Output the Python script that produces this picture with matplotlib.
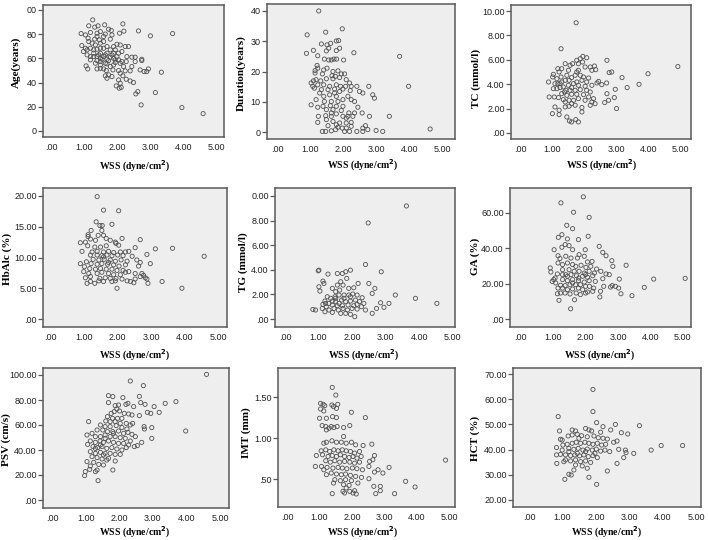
import matplotlib
matplotlib.use("Agg")
import matplotlib.pyplot as plt

W, H = 708, 540

# ---------------- data ----------------
# Panel 1: Age
age_x = [1.26,1.14,1.32,1.42,1.62,2.17,1.74,1.82,0.91,1.04,1.19,1.39,1.49,1.64,2.07,2.20,2.64,3.00,3.67,1.12,
         1.32,1.46,1.79,1.59,1.24,1.49,0.93,1.99,2.24,2.34,1.09,1.19,1.39,1.59,1.79,1.94,2.14,0.98,1.29,1.49,
         1.69,1.89,1.09,1.39,1.59,1.79,1.99,2.29,2.44,2.54,1.19,1.39,1.54,1.74,1.94,2.14,2.27,2.54,2.74,2.74,
         1.34,1.49,1.69,1.89,2.09,1.79,1.06,1.11,1.39,1.59,1.67,1.87,2.04,2.24,2.39,2.69,2.81,2.89,2.94,3.33,
         2.09,1.74,1.64,1.69,1.84,2.17,2.27,2.39,2.49,2.04,2.09,1.97,2.06,2.12,2.62,2.56,3.15,2.72,3.95,4.59,
         1.44,1.64,1.84,2.04,1.29,1.49,1.69,1.89,2.04,1.29,1.49,1.69,1.89,2.09,1.34,1.59,1.39,1.84,1.49,1.64,
         1.94,2.19,1.49,1.19,1.04,1.14,2.44]
age_y = [91.7,86.8,85.7,86.8,87.6,88.4,84,83,80.4,79.3,81.3,80.7,82,80,80.7,82.4,82.6,78.5,80.4,76.6,
         75.8,75.2,75.8,78,72.5,72.5,70.5,71.6,69.7,69.7,67,68.3,67.5,68.3,67,67,65.6,65.6,64.2,64.2,
         64.2,64.2,62.8,61.4,61.4,60.9,61.4,61.4,60.9,60.9,58.7,58.1,59.2,58.1,58.7,57.3,57.3,57.3,59.2,58.1,
         55.9,54.5,55.4,54.5,55.9,53.2,53.7,51.2,51.2,51.2,49.9,50.4,49.9,49.6,49.6,50.4,49,49,51.2,48.5,
         47.7,46.3,45.5,43.5,44.9,45.5,42.7,41.3,40,42.1,39.4,37.2,35.3,36,32.5,30.6,31.7,21.5,19.3,14.3,
         62.8,62.8,62.8,64.2,61.4,60,59.2,60,58.7,67,68.3,69.7,69.7,71,71,73.8,78,79.3,57.3,55.9,
         56.5,53.2,51.7,61.4,68.3,73.8,53.2]

# Panel 2: Duration
dur_x = [1.26,0.91,1.47,1.97,0.89,1.10,1.34,1.51,1.62,1.86,1.79,1.49,1.56,1.79,1.89,2.32,3.70,1.23,1.43,1.56,
         1.64,1.72,1.80,2.01,1.21,1.23,1.41,1.51,1.15,1.15,1.69,1.84,1.94,2.04,1.37,1.66,1.76,1.18,1.03,1.10,
         1.32,1.49,1.69,1.89,2.09,2.19,1.08,1.23,1.41,1.59,1.79,1.92,2.07,2.24,2.41,2.77,3.97,1.34,1.54,1.74,
         1.99,2.21,2.49,2.59,2.89,2.94,1.41,1.59,1.79,2.14,2.24,1.43,1.64,1.84,2.34,1.03,1.39,1.61,1.79,1.99,
         1.23,2.44,1.49,1.69,1.94,2.17,2.34,2.57,1.25,1.47,1.64,1.99,2.14,2.29,2.79,3.39,1.23,1.49,1.69,1.79,
         1.89,2.09,2.24,2.67,1.54,1.84,1.97,2.09,2.24,2.59,2.74,1.37,1.47,1.64,1.77,2.04,2.19,2.41,2.59,2.99,
         3.19,4.62,1.13,1.29,1.74,1.89,1.99,1.64,1.79,2.09,1.18]
dur_y = [40,32.1,33,34.1,26,27,29.1,28.8,29.3,30.2,30.1,26.8,27.7,26.9,27.7,26.2,25,25.2,24.1,23.8,
         23.8,24.1,24.1,23.8,22,21.1,20.5,21.1,20.3,19.5,20,20.2,19.2,19.2,19.2,18.6,18.4,17.3,16.2,16.9,
         16.9,17.6,17.6,18,17.3,16.2,15.1,15.6,15.6,15.1,15.6,15.1,15.1,15.1,15.1,15.1,15.1,14,14,14.2,
         14.2,13.7,13.4,12.9,12.3,11.2,11.8,12.3,11.8,11.8,10.7,10.1,10.1,10.1,10.1,9,8.5,8.7,8.5,8.5,
         8.2,8.2,7.4,7.4,7.1,6.3,6.3,6.3,5.2,5.4,5.2,5.2,5.2,5.2,5.2,5.2,3.2,4.1,3.5,2.4,
         3,3,3.2,2.1,2.1,1.6,1.3,1.3,1.9,1.3,0.8,0.2,0.2,0.4,0.8,0.2,0.2,0.2,0.2,0.5,
         0.2,1,14.5,12.9,12.9,13.4,10.7,6.3,6,4.6,10.7]

# Panel 3: TC
tc_x = [1.75,1.28,0.89,0.91,1.01,1.22,1.22,1.09,1.07,1.46,1.54,1.61,1.74,1.82,1.41,1.53,1.93,1.93,2.71,2.78,
        2.86,2.70,2.45,2.55,2.97,2.71,2.76,2.64,2.94,3.01,3.18,3.34,3.71,3.99,4.92,1.15,1.22,1.18,1.30,1.41,
        1.56,1.64,1.77,1.88,1.96,2.08,1.82,1.95,2.03,2.19,2.32,2.36,2.24,1.04,1.02,1.09,1.04,1.15,1.18,1.30,
        1.28,1.46,1.41,1.53,1.51,1.61,1.72,1.77,1.88,1.98,2.14,1.93,2.08,1.77,1.67,1.82,2.03,2.24,2.40,1.25,
        1.35,1.43,1.56,1.72,1.88,2.08,2.19,1.30,1.46,1.61,1.77,1.98,2.14,2.29,1.20,1.35,1.53,1.67,1.82,2.03,
        2.24,2.34,2.19,1.41,1.61,1.72,1.25,1.61,1.82,1.51,1.39]
tc_y = [9.04,6.91,4.18,2.95,1.58,1.50,1.86,2.13,2.95,1.31,0.98,0.90,1.09,0.90,2.13,2.19,1.72,2.08,5.96,4.95,
        5.00,4.10,4.23,3.96,3.58,3.22,2.68,2.49,2.90,2.00,4.54,3.72,3.99,4.86,5.45,4.45,5.00,5.27,5.27,5.68,
        5.55,5.68,5.96,6.09,6.28,6.17,5.68,5.82,5.41,5.41,5.49,5.19,5.14,4.81,4.59,4.04,3.63,3.63,4.04,4.18,
        4.59,4.73,4.32,4.32,3.91,4.54,4.73,5.00,4.73,4.59,4.51,4.32,4.18,4.18,4.04,3.91,3.83,3.91,4.10,3.72,
        3.77,3.50,3.50,3.50,3.55,3.50,3.36,3.22,3.09,3.17,3.17,3.14,2.95,2.81,2.90,2.73,2.68,2.68,2.81,2.68,
        2.54,2.40,2.27,2.54,2.40,2.27,4.04,3.72,5.14,5.14,3.36]

# Panel 4: HbA1c
hb_x = [1.39,1.58,2.03,1.83,1.36,1.47,1.54,0.89,1.04,1.12,1.21,1.12,1.19,1.34,1.42,1.58,1.53,1.66,1.78,1.93,
        2.13,2.67,1.95,2.03,1.11,1.32,1.49,1.66,2.52,3.12,3.63,0.94,1.24,1.39,1.58,1.73,1.88,2.08,2.23,2.33,
        1.19,1.39,1.53,1.68,1.83,2.00,2.16,2.43,2.87,4.57,1.27,1.44,1.60,1.78,1.93,2.10,2.28,2.57,0.89,1.07,
        1.21,1.39,1.53,1.70,1.88,2.04,2.23,2.67,2.97,2.62,1.01,1.17,1.34,1.49,1.66,1.83,1.98,2.16,2.33,0.99,
        1.14,1.39,1.53,1.73,1.88,2.08,2.23,2.52,2.72,2.77,1.19,1.47,1.63,1.78,1.95,2.13,2.52,2.67,2.82,2.87,
        1.04,1.19,1.44,1.58,1.83,1.93,2.28,2.38,2.48,1.09,1.32,2.90,3.32,1.98,3.91,1.73,1.58]
hb_y = [19.9,17.7,17.6,15.4,15.8,15.2,15.2,12.4,12.5,13.7,14.4,13.4,13.0,12.8,13.6,13.6,14.4,13.1,12.8,12.5,
        13.1,12.9,12.3,12.0,11.9,11.7,11.7,11.9,11.6,11.4,11.5,11.0,10.9,11.0,10.9,11.0,10.8,10.9,10.9,11.0,
        10.4,10.4,10.3,10.4,10.3,10.4,10.3,10.2,10.5,10.2,9.7,9.6,9.7,9.6,9.4,9.6,9.4,9.6,9.0,9.3,
        9.0,8.9,9.0,8.9,8.8,8.6,8.8,9.2,9.0,8.6,8.5,8.2,8.1,8.2,8.1,8.1,7.9,7.9,7.7,7.7,
        7.4,7.4,7.6,7.4,7.2,7.2,7.6,7.4,7.4,7.1,6.9,6.6,6.7,6.6,6.6,6.5,6.5,6.9,6.7,6.5,
        6.7,6.1,6.2,6.1,6.1,6.2,6.2,6.1,5.9,5.8,5.8,5.8,6.1,5.0,5.0,9.2,10.1]

# Panel 5: TG
tg_x = [3.62,2.48,0.99,1.28,1.56,1.71,1.81,1.95,2.40,2.87,1.01,1.13,1.16,1.01,1.04,1.41,1.51,1.63,1.56,1.66,
        1.73,1.84,1.90,2.05,2.18,2.50,2.68,2.60,3.29,3.89,4.53,3.10,2.85,2.95,2.73,2.60,2.40,2.08,0.83,0.91,
        1.13,1.19,1.26,1.36,1.49,1.61,1.76,1.90,2.02,2.15,2.30,1.11,1.23,1.31,1.41,1.51,1.61,1.69,1.81,1.95,
        2.10,2.22,2.35,1.31,1.46,1.59,1.73,1.86,2.00,2.15,2.28,1.41,1.66,1.81,1.95,1.19,1.41,1.56,1.71,1.88,
        2.05,1.21,1.51,1.76,1.95,2.15]
tg_y = [9.19,7.81,3.92,3.65,3.70,3.70,3.84,3.97,4.43,3.84,3.97,3.08,2.89,2.62,2.27,2.49,2.22,2.35,2.76,3.03,
        2.76,3.30,2.49,2.54,2.89,2.89,2.49,2.08,1.95,1.68,1.27,1.27,1.32,0.95,0.86,0.46,0.73,0.19,0.78,0.73,
        1.19,1.46,1.81,1.68,1.81,1.95,1.95,1.95,2.03,1.95,1.73,0.86,1.00,1.27,1.14,1.41,1.27,1.54,1.41,1.46,
        1.54,1.41,1.27,0.73,0.86,0.73,0.86,0.73,0.86,0.81,1.00,0.54,0.46,0.46,0.38,0.59,1.46,1.08,1.08,1.14,
        1.08,1.27,1.68,1.68,1.81,1.19]

# Panel 6: GA
ga_x = [1.93,1.24,1.63,2.11,1.42,1.60,1.16,1.27,2.08,1.78,1.44,1.03,1.27,1.37,1.49,1.60,1.99,2.42,2.53,2.63,
        2.81,2.84,3.25,1.15,1.21,1.39,1.55,1.80,1.96,1.75,2.06,2.20,0.91,0.93,1.15,1.29,1.44,1.60,1.70,1.86,
        2.01,2.16,2.34,2.47,1.29,1.49,1.65,1.80,1.96,2.11,2.27,1.13,1.39,1.55,1.72,1.91,2.06,2.22,2.63,2.73,
        1.06,1.29,1.44,1.60,1.78,1.96,2.11,2.30,2.53,3.04,4.10,5.07,3.81,3.43,3.09,3.02,2.92,2.82,2.77,2.56,
        2.46,2.44,2.22,2.06,1.91,1.78,1.60,1.44,1.29,1.15,1.23,1.08,1.37,1.52,1.69,1.84,2.00,2.12,2.25,1.23,
        1.13,1.37,1.52,1.71,1.84,2.00,1.18,1.66,1.54,0.97,1.02,1.79,1.60,1.44,1.29,2.00]
ga_y = [69.1,65.7,60.4,57.5,53.0,51.1,46.2,47.7,46.8,44.9,45.3,39.2,40.6,42.1,41.5,39.2,39.2,41.1,37.7,35.8,
        33.0,29.8,30.4,35.8,34.2,35.5,34.5,36.4,35.5,34.5,32.3,32.6,28.9,26.6,31.7,30.8,31.7,30.8,29.8,30.4,
        29.2,29.8,28.3,27.0,27.9,27.9,27.0,27.0,26.0,27.0,26.0,25.5,25.1,25.1,24.5,24.2,23.6,24.5,25.5,25.1,
        23.2,22.3,21.7,22.3,21.7,20.9,21.7,21.3,22.8,22.6,22.6,23.0,17.9,13.2,14.3,17.5,18.5,18.9,18.1,18.5,
        15.7,12.5,15.7,15.3,16.6,17.5,17.0,16.6,17.5,17.5,19.1,20.4,18.9,19.4,19.4,19.4,18.5,18.5,17.5,14.7,
        14.3,14.7,14.2,14.7,13.8,14.7,10.6,10.9,5.8,21.3,22.3,23.2,20.4,24.2,25.1,25.1]

# Panel 7: PSV
psv_x = [4.60,2.33,2.72,1.68,1.81,2.11,2.60,2.20,2.26,2.43,2.64,2.77,3.04,3.37,3.69,1.68,1.88,1.98,1.93,2.01,
         1.76,1.85,2.15,2.28,2.38,2.60,2.84,2.94,3.19,1.09,1.65,1.80,1.95,2.08,1.60,1.73,1.88,2.03,2.21,2.33,
         2.40,1.44,1.58,1.73,1.91,2.08,2.23,2.74,2.75,2.97,3.98,1.34,1.51,1.65,1.81,1.98,2.13,2.26,2.38,2.48,
         2.97,1.19,1.04,1.29,1.44,1.58,1.73,1.88,2.03,2.18,2.33,1.14,1.29,1.43,1.53,1.68,1.83,1.98,2.13,2.28,
         2.45,2.54,2.67,1.06,1.22,1.36,1.49,1.63,1.78,1.93,2.08,2.21,1.14,1.29,1.44,1.58,1.73,1.88,2.03,1.19,
         1.34,1.49,1.63,1.88,1.04,1.24,1.39,1.53,1.14,1.12,1.34,1.81,1.29,0.99,0.97,1.37,1.53,1.68,1.29,1.44,
         1.58,1.83]
psv_y = [100.5,95.2,91.5,83.5,82.7,81.9,82.9,76.5,77.3,74.7,77.9,76.5,74.7,77.3,78.7,77.9,75.5,76,72.8,71.2,
         69.3,70.7,69.3,68.8,68,67.5,70.1,69.3,70.1,62.7,66.7,65.3,65.3,65.3,63.2,62.7,62.7,61.3,61.3,60,
         61.3,60,58.7,58.7,59.5,57.9,56.8,58.7,56.8,57.9,55.2,56,56,54.7,54.7,55.2,53.3,54.1,52.5,50.7,
         49.3,53.3,52,50.7,50.7,52,50.7,50.7,49.9,49.3,47.2,47.2,46.1,47.2,46.1,47.2,46.1,45.3,45.3,44,
         42.7,43.5,46.1,44.5,42.7,41.9,42.7,41.3,41.9,40.8,40,41.9,38.7,37.3,38.1,37.3,37.3,36.5,36.5,34.7,
         33.9,32.8,32,31.2,30.7,30.1,28.5,28,27.2,24.5,24,24,22.7,22.7,19.5,15.5,36,33.3,41.3,44,
         49.3,53.3]

# Panel 8: IMT
imt_x = [1.39,1.50,1.03,1.11,1.16,1.38,1.43,1.52,1.56,1.03,1.13,1.00,1.21,1.40,1.52,1.98,2.41,1.08,1.19,1.29,
         1.36,1.44,1.54,1.21,1.93,1.74,1.74,1.13,1.21,1.38,1.52,1.67,1.82,1.98,2.11,2.34,2.61,1.05,1.19,1.31,
         1.44,1.57,1.70,1.82,1.95,2.08,2.23,0.90,1.09,1.26,1.39,1.52,1.64,1.77,1.91,2.03,2.15,2.28,2.69,4.88,
         1.19,1.33,1.47,1.62,1.77,1.93,2.08,2.23,2.54,2.64,0.87,1.06,1.23,1.41,1.57,1.70,1.84,2.01,2.15,2.32,
         2.52,2.80,3.14,2.95,2.69,1.13,1.21,1.36,1.52,1.67,1.80,1.95,2.11,2.29,2.52,1.47,1.64,1.80,1.98,2.18,
         1.43,1.74,1.91,3.65,3.94,2.87,2.67,1.82,2.08,1.72,1.93,1.39,1.77,2.13,2.73,2.87,3.31,2.03]
imt_y = [1.617,1.524,1.423,1.411,1.395,1.403,1.383,1.362,1.411,1.354,1.330,1.241,1.241,1.261,1.249,1.314,1.249,1.152,1.140,1.119,
         1.140,1.128,1.140,1.099,1.152,1.128,1.018,0.937,0.949,0.966,0.949,0.949,0.937,0.949,0.917,0.909,0.925,0.844,0.856,0.836,
         0.856,0.844,0.856,0.844,0.836,0.816,0.836,0.787,0.796,0.775,0.787,0.775,0.796,0.775,0.763,0.775,0.755,0.775,0.787,0.731,
         0.723,0.706,0.723,0.706,0.715,0.706,0.694,0.706,0.715,0.735,0.654,0.654,0.642,0.634,0.642,0.634,0.626,0.634,0.626,0.613,
         0.654,0.613,0.642,0.573,0.585,0.613,0.553,0.573,0.561,0.553,0.561,0.545,0.532,0.520,0.504,0.492,0.480,0.492,0.480,0.451,
         0.451,0.431,0.423,0.472,0.403,0.411,0.411,0.391,0.358,0.350,0.350,0.322,0.330,0.318,0.322,0.358,0.322,0.330]

# Panel 9: HCT
hct_x = [1.91,1.91,0.87,2.02,2.58,3.30,2.21,0.91,1.29,1.39,1.69,1.79,1.87,2.14,2.44,2.76,2.95,0.94,1.17,1.29,
         1.44,1.57,1.74,1.94,2.07,2.21,2.34,2.63,2.53,1.01,1.14,1.29,1.41,1.54,1.67,1.79,1.91,2.04,2.17,2.29,
         0.82,0.99,1.19,1.34,1.47,1.61,1.74,1.89,2.01,2.14,2.27,2.41,2.68,2.88,2.90,3.13,3.65,3.95,4.59,0.82,
         0.94,1.09,1.24,1.37,1.51,1.64,1.77,1.91,2.04,2.83,1.09,1.24,1.39,1.54,1.69,1.84,2.63,0.83,1.04,1.39,
         1.59,1.34,1.19,1.26,1.74,2.34,1.07,1.79,2.02,0.99,1.49,1.69,1.97,1.44,1.19]
hct_y = [63.9,55.1,53.1,50.7,50.0,49.5,49.1,47.4,47.8,47.4,48.4,47.8,47.4,46.9,47.8,46.7,46.2,44.1,45.4,45.8,
         46.1,45.5,45.1,45.4,44.7,44.5,44.2,43.4,42.9,41.8,42.1,42.5,42.9,42.5,42.9,42.5,42.1,42.5,41.8,42.1,
         40.8,39.8,40.5,40.1,40.5,39.8,40.2,39.8,40.2,39.4,39.8,39.2,40.1,39.8,38.8,38.5,39.8,41.6,41.6,37.9,
         38.1,37.9,37.6,37.9,37.5,37.9,37.2,37.6,36.8,36.8,35.9,35.5,35.9,35.2,35.5,34.9,34.5,34.5,35.2,33.9,
         33.5,31.9,30.2,29.9,32.6,31.5,28.2,29.0,26.2,43.8,44.5,39.2,38.5,38.5,39.2]

# y tick values and labels (as printed)
age_ticks = [0, 20, 40, 60, 80, 100]
age_labels = ["0", "20", "40", "60", "80", "00"]
dur_ticks = [0, 10, 20, 30, 40]
dur_labels = ["0", "10", "20", "30", "40"]
tc_ticks = [0, 2, 4, 6, 8, 10]
tc_labels = [".00", "2.00", "4.00", "6.00", "8.00", "10.00"]
hb_ticks = [0, 5, 10, 15, 20]
hb_labels = [".00", "5.00", "10.00", "15.00", "20.00"]
tg_ticks = [0, 2, 4, 6, 8, 10]
tg_labels = [".00", "2.00", "4.00", "6.00", "8.00", "0.00"]
ga_ticks = [0, 20, 40, 60]
ga_labels = [".00", "20.00", "40.00", "60.00"]
psv_ticks = [0, 20, 40, 60, 80, 100]
psv_labels = [".00", "20.00", "40.00", "60.00", "80.00", "100.00"]
imt_ticks = [0.5, 1.0, 1.5]
imt_labels = [".50", "1.00", "1.50"]
hct_ticks = [20, 30, 40, 50, 60, 70]
hct_labels = ["20.00", "30.00", "40.00", "50.00", "60.00", "70.00"]
wss_ticks = [0, 1, 2, 3, 4, 5]
wss_labels = [".00", "1.00", "2.00", "3.00", "4.00", "5.00"]

x_title = "WSS (dyne/cm$^\\mathbf{2}$)"

panels = [
    # x, y, yticks, ylabels, ylabel, frame px (l, r, t, b), xlim, ylim, ylabel pos, xlabel pos
    (age_x, age_y, age_ticks, age_labels, "Age(years)", (43, 224, 5, 137), (-0.24, 5.22), (-5, 104), (16, 62), (135, 166)),
    (dur_x, dur_y, dur_ticks, dur_labels, "Duration(years)", (267, 455, 4, 139), (-0.30, 5.37), (-2.3, 42.3), (241, 73), (363, 165)),
    (tc_x, tc_y, tc_ticks, tc_labels, "TC (mmol/l)", (511, 691, 5, 139), (-0.28, 5.33), (-0.5, 10.5), (476, 78), (602, 165)),
    (hb_x, hb_y, hb_ticks, hb_labels, "HbAlc (%)", (43, 227, 188, 327), (-0.22, 5.25), (-1.3, 21.3), (7, 259), (135, 355)),
    (tg_x, tg_y, tg_ticks, tg_labels, "TG (mmol/l)", (275, 455, 188, 327), (-0.30, 5.07), (-0.65, 10.65), (243, 262), (364, 355)),
    (ga_x, ga_y, ga_ticks, ga_labels, "GA (%)", (510, 691, 188, 327), (-0.33, 5.25), (-4.5, 74.1), (475, 256), (600, 355)),
    (psv_x, psv_y, psv_ticks, psv_labels, "PSV (cm/s)", (43, 229, 368, 508), (-0.27, 5.27), (-6.4, 105.6), (6, 440), (135, 532)),
    (imt_x, imt_y, imt_ticks, imt_labels, "IMT (mm)", (278, 455, 368, 507), (-0.28, 5.17), (0.159, 1.854), (246, 433), (363, 532)),
    (hct_x, hct_y, hct_ticks, hct_labels, "HCT (%)", (513, 701, 368, 507), (-0.48, 5.14), (17.2, 72.4), (475, 438), (607, 532)),
]

plt.rcParams['font.family'] = ['Liberation Sans', 'DejaVu Sans']
fig = plt.figure(figsize=(W / 100, H / 100), dpi=100)
fig.patch.set_facecolor('white')

frame_col = '#5a5a5a'
for (xs, ys, yt, yl, ylab, (l, r, t, b), xlim, ylim, ylpos, xlpos) in panels:
    ax = fig.add_axes([l / W, 1 - b / H, (r - l) / W, (b - t) / H])
    ax.set_facecolor('#eeeeee')
    ax.scatter(xs, ys, s=9, facecolors='none', edgecolors='#505050', linewidths=0.6, zorder=3)
    ax.set_xlim(*xlim)
    ax.set_ylim(*ylim)
    ax.set_xticks(wss_ticks)
    ax.set_xticklabels(wss_labels)
    ax.set_yticks(yt)
    ax.set_yticklabels(yl)
    ax.tick_params(axis='x', length=0, pad=4, labelsize=6.5, colors='#222222')
    ax.tick_params(axis='y', length=3.5, width=0.9, pad=1, labelsize=6.5, colors='#222222')
    ax.tick_params(axis='y', color=frame_col)
    for sp in ax.spines.values():
        sp.set_color(frame_col)
        sp.set_linewidth(1.1)
    fig.text(ylpos[0] / W, 1 - ylpos[1] / H, ylab, rotation=90, ha='center', va='center',
             family='Liberation Serif', fontweight='bold', fontsize=8)
    fig.text(xlpos[0] / W, 1 - xlpos[1] / H, x_title, ha='center', va='center',
             family='Liberation Serif', fontweight='bold', fontsize=7)

fig.savefig('out.png', dpi=100, facecolor='white')
